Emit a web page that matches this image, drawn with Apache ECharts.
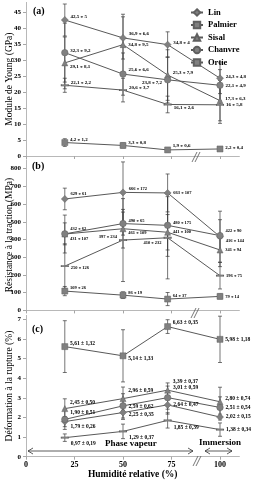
<!DOCTYPE html>
<html><head><meta charset="utf-8">
<script src="https://cdn.jsdelivr.net/npm/echarts@6/dist/echarts.min.js"></script>
<style>html,body{margin:0;padding:0;background:#fff}#c{width:253px;height:480px}</style>
</head><body><div id="c"></div>
<script>
// ---------- data ----------
const humidity = [20, 50, 73, 100];
const seriesNames = ['Lin', 'Palmier', 'Sisal', 'Chanvre', 'Ortie'];
// (a) Module de Young (GPa)
const youngLin = [42.5, 36.9, 34.8, 24.3],      youngLinErr = [5, 6.6, 4, 4.8];
const youngPalmier = [4.2, 3.3, 1.9, 2.2],      youngPalmierErr = [1.2, 0.8, 0.6, 0.4];
const youngSisal = [29.1, 34.8, 25.3, 17.3],    youngSisalErr = [8.1, 9.5, 7.9, 6.3];
const youngChanvre = [32.3, 25.6, 23.8, 22.1],  youngChanvreErr = [9.2, 6.6, 7.2, 4.9];
const youngOrtie = [22.1, 20.6, 16.1, 16],      youngOrtieErr = [2.2, 3.7, 2.6, 5.8];
// (b) Résistance à la traction (MPa)
const tensLin = [629, 666, 663, 416],           tensLinErr = [61, 172, 107, 144];
const tensPalmier = [109, 86, 64, 79],          tensPalmierErr = [26, 19, 37, 14];
const tensSisal = [431, 461, 441, 341],         tensSisalErr = [107, 109, 100, 94];
const tensChanvre = [432, 490, 480, 422],       tensChanvreErr = [62, 65, 175, 90];
const tensOrtie = [250, 397, 410, 196],         tensOrtieErr = [126, 234, 232, 75];
// (c) Déformation à la rupture (%)
const strainLin = [1.79, 2.25, 2.64, 2.02],     strainLinErr = [0.26, 0.35, 0.47, 0.15];
const strainPalmier = [5.61, 5.14, 6.63, 5.98], strainPalmierErr = [1.32, 1.33, 0.35, 1.18];
const strainSisal = [2.45, 2.96, 3.39, 2.80],   strainSisalErr = [0.50, 0.59, 0.37, 0.74];
const strainChanvre = [1.90, 2.59, 3.01, 2.51], strainChanvreErr = [0.51, 0.62, 0.59, 0.54];
const strainOrtie = [0.97, 1.29, 1.85, 1.38],   strainOrtieErr = [0.19, 0.37, 0.39, 0.34];
// ticks
const xTicks = [0, 25, 50, 75, 100];
const youngTicks = [0, 5, 10, 15, 20, 25, 30, 35, 40, 45];
const tensTicks = [0, 100, 200, 300, 400, 500, 600, 700, 800];
const strainTicks = [0, 1, 2, 3, 4, 5, 6, 7];

// ---------- styles ----------
const SERIF = '"Liberation Serif","Times New Roman",serif';
const LINE = '#595959', MARK = '#808080', ERR = '#3a3a3a';
const symbols = {Lin: 'diamond', Palmier: 'rect', Sisal: 'triangle', Chanvre: 'circle', Ortie: 'rect'};
const symSizes = {Lin: 7, Palmier: 6, Sisal: 6, Chanvre: 6.5, Ortie: [7, 1.6]};

const fmt1 = v => String(v).replace('.', ',');
const fmt2 = v => v.toFixed(2).replace('.', ',');

// label offsets (dy) and sides per panel/series
const lblA = {Lin: [[-3], [-4], [-2], [-2]], Palmier: [[-3], [-3], [-4], [-1]], Sisal: [[4], [0], [-2], [-2]],
  Chanvre: [[-2], [-4], [3, 'left'], [0]], Ortie: [[-3], [-2], [3], [0]]};
const lblB = {Lin: [[-5], [-4], [0], [4]], Palmier: [[-3], [-2], [-3], [0]], Sisal: [[5], [4], [0], [0]],
  Chanvre: [[-5], [-3], [-3], [-5]], Ortie: [[2], [-3, 'left'], [5, 'left'], [0]]};
const lblC = {Lin: [[5], [2], [0], [0]], Palmier: [[-3], [3], [-4], [0]], Sisal: [[-6], [-8], [-9], [-3]],
  Chanvre: [[-7], [1], [-10], [0]], Ortie: [[6], [6], [7], [0]]};

const series = [];
function addPanel(gi, sets, fmt, lbl, fs) {
  sets.forEach(([name, vals, errs]) => {
    series.push({
      type: 'custom', name: name + '-err', xAxisIndex: gi, yAxisIndex: gi, z: 1, silent: true,
      data: vals.map((v, i) => [humidity[i], v, errs[i]]),
      encode: {x: 0, y: 1},
      renderItem: (params, api) => {
        const x = api.value(0), y = api.value(1), e = api.value(2);
        const t = api.coord([x, y + e]), b = api.coord([x, y - e]);
        const w = 2;
        const st = {stroke: ERR, lineWidth: 0.7};
        return {type: 'group', children: [
          {type: 'line', shape: {x1: t[0], y1: t[1], x2: b[0], y2: b[1]}, style: st},
          {type: 'line', shape: {x1: t[0] - w, y1: t[1], x2: t[0] + w, y2: t[1]}, style: st},
          {type: 'line', shape: {x1: b[0] - w, y1: b[1], x2: b[0] + w, y2: b[1]}, style: st}
        ]};
      }
    });
    series.push({
      type: 'line', name: name, xAxisIndex: gi, yAxisIndex: gi, z: 3,
      symbol: symbols[name], symbolSize: symSizes[name], showAllSymbol: true,
      lineStyle: {color: LINE, width: 1},
      itemStyle: {color: MARK, borderColor: '#606060', borderWidth: 0.5},
      data: vals.map((v, i) => {
        const l = lbl[name][i];
        return {value: [humidity[i], v], label: {position: l[1] || 'right', offset: [0, l[0]]}};
      }),
      label: {
        show: true, position: 'right', distance: 2,
        formatter: p => fmt(vals[p.dataIndex]) + ' ± ' + fmt(errs[p.dataIndex]),
        fontFamily: SERIF, fontWeight: 'bold', fontSize: fs, color: '#000'
      },
      emphasis: {disabled: true}
    });
  });
}
addPanel(0, [['Lin', youngLin, youngLinErr], ['Palmier', youngPalmier, youngPalmierErr], ['Sisal', youngSisal, youngSisalErr],
  ['Chanvre', youngChanvre, youngChanvreErr], ['Ortie', youngOrtie, youngOrtieErr]], fmt1, lblA, 5);
addPanel(1, [['Lin', tensLin, tensLinErr], ['Palmier', tensPalmier, tensPalmierErr], ['Sisal', tensSisal, tensSisalErr],
  ['Chanvre', tensChanvre, tensChanvreErr], ['Ortie', tensOrtie, tensOrtieErr]], fmt1, lblB, 4.5);
addPanel(2, [['Lin', strainLin, strainLinErr], ['Palmier', strainPalmier, strainPalmierErr], ['Sisal', strainSisal, strainSisalErr],
  ['Chanvre', strainChanvre, strainChanvreErr], ['Ortie', strainOrtie, strainOrtieErr]], fmt2, lblC, 5.5);

const axisTxt = {fontFamily: SERIF, fontWeight: 'bold', fontSize: 7, color: '#000'};
function yAx(gi, max, ticks, name) {
  return {
    type: 'value', gridIndex: gi, min: 0, max: max,
    axisLine: {show: true, lineStyle: {color: '#a6a6a6', width: 0.8}},
    axisTick: {show: true, length: 3, customValues: ticks, lineStyle: {color: '#a6a6a6'}},
    axisLabel: Object.assign({customValues: ticks, margin: 5}, axisTxt),
    splitLine: {show: false},
    name: name, nameLocation: 'middle', nameGap: 12, nameMoveOverlap: false,
    nameTextStyle: {fontFamily: SERIF, fontSize: 9.5, color: '#000'}
  };
}
function xAx(gi, showLabel) {
  return {
    type: 'value', gridIndex: gi, min: 0, max: 110,
    axisLine: {show: true, onZero: false, lineStyle: {color: '#a6a6a6', width: 0.8}},
    axisTick: {show: true, length: 3, customValues: xTicks, lineStyle: {color: '#a6a6a6'}},
    axisLabel: Object.assign({show: showLabel, customValues: xTicks, margin: 4}, axisTxt, {fontSize: 8}),
    splitLine: {show: false},
    name: showLabel ? 'Humidité relative (%)' : '', nameLocation: 'middle', nameGap: 13, nameMoveOverlap: false,
    nameTextStyle: {fontFamily: SERIF, fontWeight: 'bold', fontSize: 9.5, color: '#000'}
  };
}

function brk(x, y) {
  return [
    {type: 'line', shape: {x1: x - 3, y1: y + 6, x2: x + 2, y2: y - 4}, style: {stroke: '#555', lineWidth: 0.8}, z: 10},
    {type: 'line', shape: {x1: x, y1: y + 6, x2: x + 5, y2: y - 4}, style: {stroke: '#555', lineWidth: 0.8}, z: 10}
  ];
}
function arrow(x1, x2, y) {
  const s = {stroke: '#333', lineWidth: 0.8, fill: null};
  return [
    {type: 'line', shape: {x1: x1, y1: y, x2: x2, y2: y}, style: s},
    {type: 'polyline', shape: {points: [[x1 + 5, y - 3], [x1, y], [x1 + 5, y + 3]]}, style: s},
    {type: 'polyline', shape: {points: [[x2 - 5, y - 3], [x2, y], [x2 - 5, y + 3]]}, style: s}
  ];
}
const panelTxt = (t, x, y) => ({type: 'text', x: x, y: y, style: {text: t, font: 'bold 10px ' + SERIF, fill: '#000'}});

const gridBase = {left: 26, width: 213.4, containLabel: false, outerBoundsMode: 'none'};
const option = {
  animation: false,
  backgroundColor: '#fff',
  grid: [
    Object.assign({top: 2.4, height: 153.6}, gridBase),
    Object.assign({top: 159.8, height: 150.6}, gridBase),
    Object.assign({top: 315.4, height: 141.3}, gridBase)
  ],
  xAxis: [xAx(0, false), xAx(1, false), xAx(2, true)],
  yAxis: [
    yAx(0, 48, youngTicks, 'Module de Young (GPa)'),
    yAx(1, 850, tensTicks, 'Résistance à la traction (MPa)'),
    yAx(2, 7.2, strainTicks, 'Déformation à la rupture (%)')
  ],
  legend: {
    data: seriesNames, orient: 'vertical', left: 185, top: 3, itemGap: 3.5,
    itemWidth: 12, itemHeight: 8, selectedMode: false,
    textStyle: {fontFamily: SERIF, fontWeight: 'bold', fontSize: 8.5, color: '#000'}
  },
  series: series,
  graphic: [
    panelTxt('(a)', 33, 6),
    panelTxt('(b)', 32, 161),
    panelTxt('(c)', 32, 324),
    {type: 'text', x: 105, y: 439, style: {text: 'Phase vapeur', font: 'bold 9px ' + SERIF, fill: '#000'}},
    {type: 'text', x: 199, y: 438, style: {text: 'Immersion', font: 'bold 9px ' + SERIF, fill: '#000'}},
    ...arrow(28, 193, 451),
    ...arrow(205, 232, 451),
    ...brk(195, 156),
    ...brk(194, 312),
    ...brk(196, 460)
  ]
};
const chart = echarts.init(document.getElementById('c'), null, {renderer: 'canvas'});
chart.setOption(option);
</script>
</body></html>
